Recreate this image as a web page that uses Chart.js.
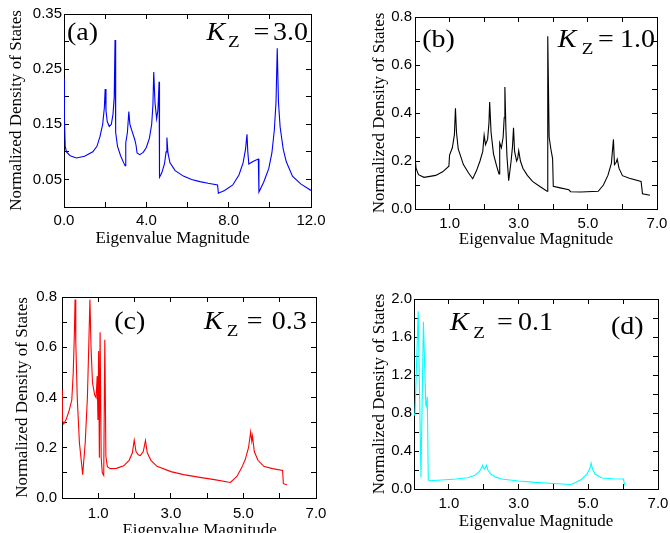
<!DOCTYPE html>
<html>
<head>
<meta charset="utf-8">
<script src="https://cdn.jsdelivr.net/npm/chart.js@4/dist/chart.umd.min.js"></script>
<style>
    html, body { margin: 0; padding: 0; background: #fff; }
    body { width: 670px; height: 533px; overflow: hidden; position: relative; }
    .panel { position: absolute; }
</style>
</head>
<body>
<div class="panel" style="left:0;top:0;width:335px;height:266px"><canvas id="chartA"></canvas></div>
<div class="panel" style="left:335px;top:0;width:335px;height:266px"><canvas id="chartB"></canvas></div>
<div class="panel" style="left:0;top:266px;width:335px;height:280px"><canvas id="chartC"></canvas></div>
<div class="panel" style="left:335px;top:266px;width:335px;height:280px"><canvas id="chartD"></canvas></div>
<script>
// (a) K_Z = 3.0
const eigA = [0.0, 0.02, 0.06, 0.12, 0.3, 0.6, 1.0, 1.4, 1.6, 1.75, 1.88, 1.96, 2.0, 2.04, 2.1, 2.2, 2.3, 2.38, 2.44, 2.48,
    2.5, 2.52, 2.6, 2.75, 2.9, 2.97, 3.0, 3.08, 3.15, 3.2, 3.3, 3.44, 3.5, 3.55, 3.68, 3.85, 4.0, 4.15, 4.26, 4.32,
    4.36, 4.42, 4.5, 4.56, 4.62, 4.64, 4.75, 4.88, 4.96, 5.0, 5.05, 5.15, 5.4, 5.8, 6.2, 6.6, 7.0, 7.46, 7.5, 7.8,
    8.2, 8.5, 8.7, 8.82, 8.89, 8.93, 8.98, 9.2, 9.44, 9.47, 9.7, 9.95, 10.1, 10.22, 10.3, 10.36, 10.42, 10.5, 10.65, 10.8,
    11.1, 11.5, 12.0];
const dosA = [0.233, 0.16, 0.11, 0.100, 0.093, 0.089, 0.092, 0.100, 0.110, 0.128, 0.150, 0.180, 0.214, 0.175, 0.155, 0.146, 0.150, 0.168, 0.200, 0.303,
    0.180, 0.135, 0.110, 0.093, 0.080, 0.075, 0.116, 0.135, 0.173, 0.150, 0.138, 0.122, 0.112, 0.098, 0.095, 0.099, 0.108, 0.125, 0.150, 0.185,
    0.245, 0.190, 0.160, 0.175, 0.227, 0.054, 0.062, 0.078, 0.100, 0.126, 0.098, 0.080, 0.066, 0.056, 0.050, 0.046, 0.043, 0.040, 0.025, 0.030,
    0.040, 0.058, 0.080, 0.105, 0.132, 0.100, 0.078, 0.083, 0.087, 0.027, 0.045, 0.070, 0.098, 0.140, 0.190, 0.288, 0.190, 0.145, 0.105, 0.082,
    0.056, 0.042, 0.030];

// (b) K_Z = 1.0
const eigB = [0.0, 0.03, 0.1, 0.26, 0.6, 0.8, 0.98, 1.0, 1.08, 1.14, 1.17, 1.2, 1.25, 1.4, 1.55, 1.67, 1.78, 1.88, 1.96, 2.0,
    2.04, 2.1, 2.14, 2.16, 2.2, 2.27, 2.36, 2.43, 2.45, 2.5, 2.55, 2.58, 2.6, 2.63, 2.66, 2.71, 2.78, 2.82, 2.85, 2.88,
    2.94, 2.97, 3.0, 3.05, 3.12, 3.25, 3.4, 3.6, 3.82, 3.84, 3.88, 3.93, 3.98, 4.0, 4.2, 4.45, 4.5, 4.8, 5.3, 5.45,
    5.58, 5.68, 5.74, 5.77, 5.82, 5.85, 5.9, 6.0, 6.2, 6.54, 6.58, 6.8];
const dosB = [0.22, 0.17, 0.143, 0.132, 0.14, 0.155, 0.178, 0.225, 0.255, 0.31, 0.42, 0.32, 0.25, 0.185, 0.150, 0.126, 0.160, 0.200, 0.240, 0.307,
    0.268, 0.29, 0.360, 0.446, 0.320, 0.230, 0.180, 0.146, 0.275, 0.255, 0.300, 0.380, 0.508, 0.330, 0.220, 0.118, 0.200, 0.260, 0.338, 0.240,
    0.200, 0.210, 0.243, 0.200, 0.170, 0.140, 0.115, 0.095, 0.074, 0.72, 0.300, 0.250, 0.210, 0.095, 0.088, 0.080, 0.072, 0.071, 0.074, 0.100,
    0.140, 0.190, 0.290, 0.185, 0.195, 0.208, 0.170, 0.139, 0.128, 0.115, 0.063, 0.057];

// (c) K_Z = 0.3
const eigC = [0.0, 0.01, 0.05, 0.12, 0.2, 0.27, 0.31, 0.34, 0.36, 0.38, 0.42, 0.48, 0.57, 0.64, 0.7, 0.74, 0.77, 0.8, 0.84, 0.9,
    0.94, 0.97, 0.99, 1.01, 1.03, 1.05, 1.08, 1.11, 1.15, 1.18, 1.21, 1.25, 1.33, 1.5, 1.7, 1.85, 1.94, 1.99, 2.04, 2.1,
    2.16, 2.24, 2.3, 2.35, 2.45, 2.62, 3.0, 3.35, 3.8, 4.2, 4.64, 4.82, 4.95, 5.05, 5.14, 5.2, 5.23, 5.25, 5.3, 5.4,
    5.56, 5.8, 6.08, 6.1, 6.2];
const dosC = [0.43, 0.31, 0.295, 0.315, 0.35, 0.39, 0.50, 0.65, 0.79, 0.62, 0.40, 0.22, 0.093, 0.22, 0.40, 0.62, 0.79, 0.60, 0.46, 0.41,
    0.40, 0.485, 0.31, 0.585, 0.16, 0.66, 0.16, 0.10, 0.09, 0.63, 0.165, 0.125, 0.117, 0.118, 0.128, 0.150, 0.180, 0.230, 0.185, 0.172,
    0.169, 0.185, 0.229, 0.180, 0.150, 0.126, 0.105, 0.093, 0.082, 0.073, 0.062, 0.086, 0.120, 0.153, 0.200, 0.263, 0.226, 0.246, 0.185, 0.150,
    0.126, 0.117, 0.110, 0.057, 0.053];

// (d) K_Z = 0.1
const eigD = [0.0, 0.03, 0.12, 0.2, 0.27, 0.34, 0.36, 0.37, 0.38, 0.41, 0.45, 0.8, 1.2, 1.55, 1.75, 1.88, 1.97, 2.0, 2.03, 2.08,
    2.12, 2.2, 2.35, 2.51, 3.0, 3.47, 4.0, 4.5, 4.62, 4.8, 4.96, 5.05, 5.08, 5.12, 5.2, 5.39, 5.7, 6.01, 6.04];
const dosD = [0.77, 0.80, 1.87, 0.12, 1.76, 0.87, 0.93, 0.85, 0.97, 0.095, 0.087, 0.095, 0.105, 0.119, 0.145, 0.185, 0.25, 0.215, 0.21, 0.25,
    0.20, 0.157, 0.125, 0.105, 0.085, 0.07, 0.058, 0.047, 0.065, 0.10, 0.157, 0.22, 0.273, 0.21, 0.155, 0.115, 0.108, 0.105, 0.042];

const serif = '"Liberation Serif", "Times New Roman", serif';
const sans = '"Liberation Sans", Arial, sans-serif';
const yTitle = 'Normalized Density of States';

function toPoints(xs, ys) {
    return xs.map((x, i) => ({ x, y: ys[i] }));
}

// panel letter and K_Z label, placed relative to the plot box
const panelText = {
    id: 'panelText',
    afterDraw(chart, args, opts) {
        const { ctx, chartArea } = chart;
        (opts.items || []).forEach(t => {
            ctx.save();
            ctx.font = t.font;
            ctx.fillStyle = '#000';
            ctx.textBaseline = 'alphabetic';
            ctx.textAlign = 'left';
            ctx.translate(chartArea.left + t.dx, chartArea.top + t.dy);
            ctx.scale(1.12, 1);
            ctx.fillText(t.text, 0, 0);
            ctx.restore();
        });
    }
};
Chart.register(panelText);

function kzLabel(letter, value, pos) {
    const big = '25px ' + serif;
    return [
        { text: letter, font: big, dx: pos.lx, dy: pos.ly },
        { text: 'K', font: 'italic ' + big, dx: pos.kx, dy: pos.ky },
        { text: 'Z', font: '17px ' + serif, dx: pos.zx, dy: pos.ky + 7.5 },
        { text: '=', font: big, dx: pos.ex, dy: pos.ky },
        { text: value, font: big, dx: pos.vx, dy: pos.ky }
    ];
}

function makePanel(id, p) {
    const tickFont = { family: sans, size: 15 };
    const inward = { drawOnChartArea: false, drawTicks: true, tickLength: -5, color: '#000', lineWidth: 1 };
    const edge = { display: true, color: '#000', width: 1 };
    return new Chart(document.getElementById(id), {
        type: 'line',
        data: {
            datasets: [{
                data: toPoints(p.xs, p.ys),
                borderColor: p.color,
                borderWidth: 1.1,
                pointRadius: 0,
                tension: 0,
                fill: false
            }]
        },
        options: {
            responsive: true, maintainAspectRatio: false, animation: false,
            layout: { padding: { top: p.top, right: p.right, left: 0, bottom: 0 } },
            plugins: { legend: { display: false }, tooltip: { enabled: false }, panelText: { items: p.text } },
            scales: {
                x: {
                    type: 'linear', position: 'bottom', min: 0, max: p.xMax,
                    grid: inward, border: edge,
                    ticks: { stepSize: p.xStep, autoSkip: false, maxRotation: 0, color: '#000', font: tickFont, padding: p.xPad, callback: p.xLabel },
                    title: { display: true, text: p.xTitle, color: '#000', font: { family: serif, size: 17 }, padding: { top: 0, bottom: p.xTitlePad } },
                    afterFit: s => { s.height = p.xH; s.paddingLeft = 0; s.paddingRight = 0; }
                },
                y: {
                    type: 'linear', position: 'left', min: 0, max: p.yMax,
                    grid: inward, border: edge,
                    ticks: { stepSize: p.yStep, autoSkip: false, color: '#000', font: tickFont, padding: p.yPad, callback: p.yLabel },
                    title: { display: true, text: yTitle, color: '#000', font: { family: serif, size: 17 }, padding: { top: p.yTitlePad, bottom: 0 } },
                    afterFit: s => { s.width = p.yW; s.paddingTop = 0; s.paddingBottom = 0; }
                },
                xTop: {
                    axis: 'x', type: 'linear', position: 'top', min: 0, max: p.xMax,
                    grid: inward, border: edge,
                    ticks: { stepSize: p.xStep, display: false },
                    afterFit: s => { s.height = 0; s.paddingLeft = 0; s.paddingRight = 0; }
                },
                yRight: {
                    axis: 'y', type: 'linear', position: 'right', min: 0, max: p.yMax,
                    grid: inward, border: edge,
                    ticks: { stepSize: p.yStep, display: false },
                    afterFit: s => { s.width = 0; s.paddingTop = 0; s.paddingBottom = 0; }
                }
            }
        }
    });
}

const oddLabel = v => (Math.round(v) % 2 === 1 ? v.toFixed(1) : '');

makePanel('chartA', {
    xs: eigA, ys: dosA, color: '#0000ff',
    xMax: 12, xStep: 2, xLabel: v => (Math.round(v) % 4 === 0 ? v.toFixed(1) : ''),
    yMax: 0.35, yStep: 0.05, yLabel: v => (Math.round(v * 100) % 10 === 5 ? v.toFixed(2) : ''),
    top: 14, right: 24, yW: 64, xH: 59, xPad: 10, yPad: 7, yTitlePad: 6, xTitlePad: 17,
    xTitle: 'Eigenvalue Magnitude       ',
    text: kzLabel('(a)', '3.0', { lx: 3, ly: 25.5, kx: 142.5, ky: 25.5, zx: 164, ex: 189.5, vx: 209 })
});

makePanel('chartB', {
    xs: eigB, ys: dosB, color: '#000000',
    xMax: 7, xStep: 1, xLabel: oddLabel,
    yMax: 0.8, yStep: 0.1, yLabel: v => (Math.round(v * 10) % 2 === 0 ? v.toFixed(1) : ''),
    top: 17, right: 13, yW: 80, xH: 57, xPad: 11, yPad: 8, yTitlePad: 34, xTitlePad: 16,
    xTitle: 'Eigenvalue Magnitude',
    text: kzLabel('(b)', '1.0', { lx: 7.3, ly: 29.7, kx: 142.7, ky: 29.7, zx: 166.7, ex: 183, vx: 205 })
});

makePanel('chartC', {
    xs: eigC, ys: dosC, color: '#ff0000',
    xMax: 7, xStep: 1, xLabel: oddLabel,
    yMax: 0.8, yStep: 0.1, yLabel: v => (Math.round(v * 10) % 2 === 0 ? v.toFixed(1) : ''),
    top: 31, right: 19, yW: 62, xH: 48, xPad: 12, yPad: 10, yTitlePad: 12, xTitlePad: 5,
    xTitle: '     Eigenvalue Magnitude',
    text: kzLabel('(c)', '0.3', { lx: 52.3, ly: 32.3, kx: 142, ky: 31.7, zx: 164.7, ex: 184.7, vx: 209.7 })
});

makePanel('chartD', {
    xs: eigD, ys: dosD, color: '#00ffff',
    xMax: 7, xStep: 1, xLabel: oddLabel,
    yMax: 2.0, yStep: 0.2, yLabel: v => (Math.round(v * 10) % 4 === 0 ? v.toFixed(1) : ''),
    top: 33, right: 12, yW: 79, xH: 57, xPad: 11, yPad: 7, yTitlePad: 34, xTitlePad: 14,
    xTitle: 'Eigenvalue Magnitude',
    text: kzLabel('(d)', '0.1', { lx: 197, ly: 34.7, kx: 36, ky: 31.3, zx: 59.3, ex: 83, vx: 104 })
});
</script>
</body>
</html>
